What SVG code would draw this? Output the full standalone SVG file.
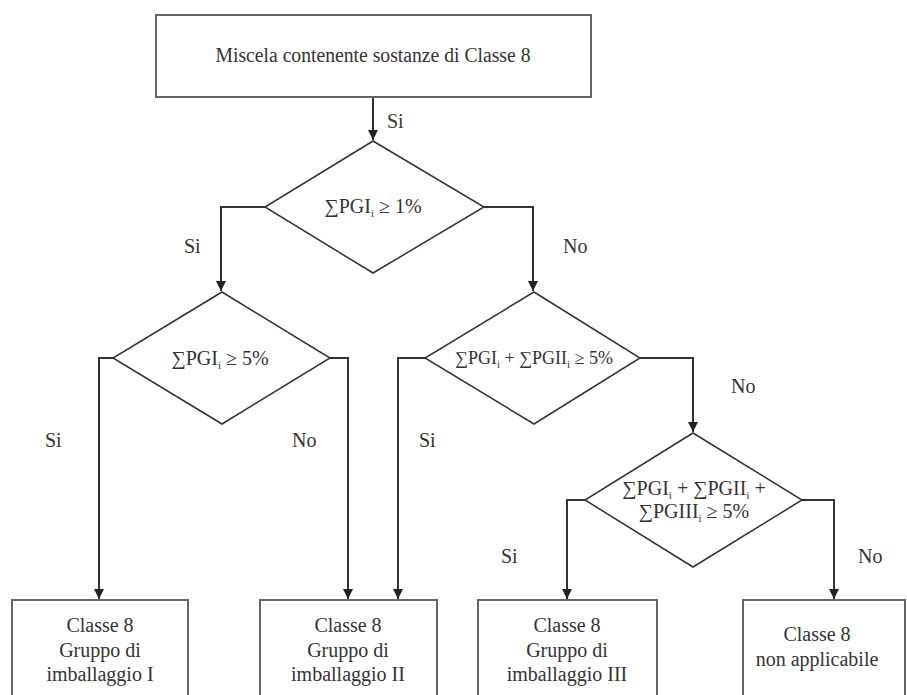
<svg xmlns="http://www.w3.org/2000/svg" width="907" height="695" viewBox="0 0 907 695" font-family="Liberation Serif, DejaVu Serif, serif">
<style>
.box{fill:#fff;stroke:#666;stroke-width:2}
.dia{fill:#fff;stroke:#333;stroke-width:1.5}
.ln{fill:none;stroke:#333;stroke-width:2}
text{fill:#333;font-size:20px}
.c{text-anchor:middle}
.sub{font-size:11px}
</style>
<defs>
<marker id="ah" viewBox="0 0 10 10" refX="10" refY="5" markerWidth="10" markerHeight="10" markerUnits="userSpaceOnUse" orient="auto">
<path d="M0,0 L10,5 L0,10 z" fill="#222"/>
</marker>
</defs>
<rect width="907" height="695" fill="#fff"/>
<g id="connectors">
<path class="ln" d="M373,97 V140" marker-end="url(#ah)"/>
<path class="ln" d="M265,207 H221 V291" marker-end="url(#ah)"/>
<path class="ln" d="M484,207 H533 V291" marker-end="url(#ah)"/>
<path class="ln" d="M113,358 H99 V599" marker-end="url(#ah)"/>
<path class="ln" d="M330,358 H348 V599" marker-end="url(#ah)"/>
<path class="ln" d="M425,358 H398 V599" marker-end="url(#ah)"/>
<path class="ln" d="M640,358 H693 V432" marker-end="url(#ah)"/>
<path class="ln" d="M585,500 H567 V599" marker-end="url(#ah)"/>
<path class="ln" d="M802,500 H834 V599" marker-end="url(#ah)"/>
</g>
<g id="labels">
<text x="387" y="128">Si</text>
<text x="184" y="253">Si</text>
<text x="563" y="253">No</text>
<text x="45" y="447">Si</text>
<text x="292" y="447">No</text>
<text x="419" y="447">Si</text>
<text x="731" y="393">No</text>
<text x="501" y="563">Si</text>
<text x="858" y="563">No</text>
</g>
<g id="start">
<rect class="box" x="156" y="15" width="435" height="82"/>
<text class="c" x="373" y="62" textLength="315" lengthAdjust="spacingAndGlyphs">Miscela contenente sostanze di Classe 8</text>
</g>
<g id="d1">
<polygon class="dia" points="373,141 484,207 373,273 265,207"/>
<text class="c" x="373" y="213">∑PGI<tspan class="sub" dy="4">i</tspan><tspan dy="-4"> ≥ 1%</tspan></text>
</g>
<g id="d2">
<polygon class="dia" points="222,292 330,358 222,424 113,358"/>
<text class="c" x="220" y="365">∑PGI<tspan class="sub" dy="4">i</tspan><tspan dy="-4"> ≥ 5%</tspan></text>
</g>
<g id="d3">
<polygon class="dia" points="534,292 640,358 534,424 425,358"/>
<text class="c" x="534" y="364" style="font-size:18px">∑PGI<tspan class="sub" dy="4">i</tspan><tspan dy="-4"> + ∑PGII</tspan><tspan class="sub" dy="4">i</tspan><tspan dy="-4"> ≥ 5%</tspan></text>
</g>
<g id="d4">
<polygon class="dia" points="693,433 802,500 693,567 585,500"/>
<text class="c" x="694" y="495">∑PGI<tspan class="sub" dy="4">i</tspan><tspan dy="-4"> + ∑PGII</tspan><tspan class="sub" dy="4">i</tspan><tspan dy="-4"> +</tspan></text>
<text class="c" x="694" y="518">∑PGIII<tspan class="sub" dy="4">i</tspan><tspan dy="-4"> ≥ 5%</tspan></text>
</g>
<g id="r1">
<rect class="box" x="12" y="600" width="176" height="110"/>
<text class="c" x="100" y="632">Classe 8</text>
<text class="c" x="100" y="657">Gruppo di</text>
<text class="c" x="100" y="681">imballaggio I</text>
</g>
<g id="r2">
<rect class="box" x="260" y="600" width="177" height="110"/>
<text class="c" x="348" y="632">Classe 8</text>
<text class="c" x="348" y="657">Gruppo di</text>
<text class="c" x="348" y="681">imballaggio II</text>
</g>
<g id="r3">
<rect class="box" x="478" y="600" width="179" height="110"/>
<text class="c" x="567" y="632">Classe 8</text>
<text class="c" x="567" y="657">Gruppo di</text>
<text class="c" x="567" y="681">imballaggio III</text>
</g>
<g id="r4">
<rect class="box" x="743" y="600" width="162" height="110"/>
<text class="c" x="817" y="641">Classe 8</text>
<text class="c" x="817" y="666">non applicabile</text>
</g>
</svg>
